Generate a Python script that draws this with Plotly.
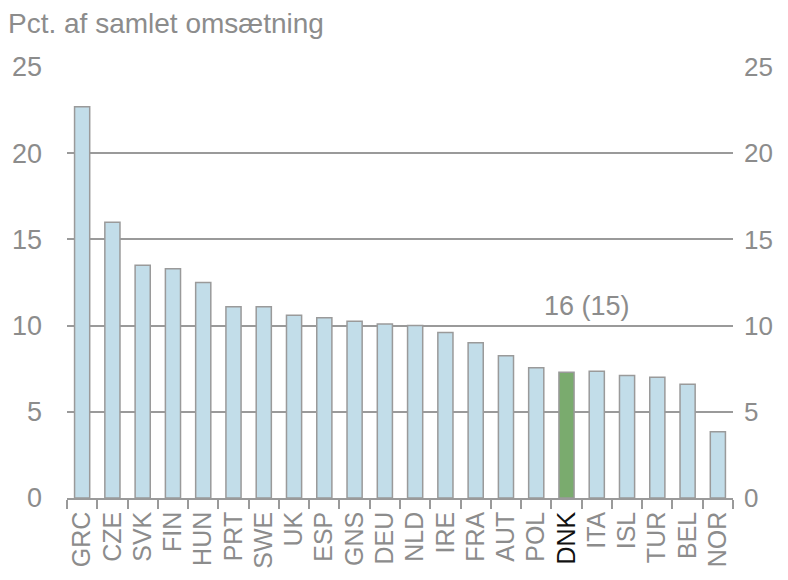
import plotly.graph_objects as go

countries = ["GRC","CZE","SVK","FIN","HUN","PRT","SWE","UK","ESP","GNS","DEU","NLD",
             "IRE","FRA","AUT","POL","DNK","ITA","ISL","TUR","BEL","NOR"]
values = [22.7,16.0,13.5,13.3,12.5,11.1,11.1,10.6,10.45,10.25,10.1,10.0,
          9.6,9.0,8.25,7.55,7.3,7.35,7.1,7.0,6.6,3.85]
highlight = "DNK"
rank_label = "16 (15)"
yticks = [0,5,10,15,20,25]

GRAY = "#8c8c8c"
colors = ["#7aab6e" if c == highlight else "#c2dde9" for c in countries]
ticktext = [f"<span style='color:#111111'>{c}</span>" if c == highlight else c for c in countries]

fig = go.Figure()
fig.add_trace(go.Bar(x=countries, y=values, marker=dict(color=colors, line=dict(color="#9a9a9a", width=1.5)),
                     showlegend=False, hoverinfo="skip"))
fig.add_trace(go.Scatter(x=countries, y=values, yaxis="y2", mode="markers", marker=dict(opacity=0),
                         showlegend=False, hoverinfo="skip"))

fig.update_layout(
    width=780, height=564,
    margin=dict(l=59, r=55, t=59, b=74, autoexpand=False),
    plot_bgcolor="white", paper_bgcolor="white",
    font=dict(family="Liberation Sans, Arial", color=GRAY, size=24),
    bargap=0.5,
    xaxis=dict(tickmode="array", tickvals=countries, ticktext=ticktext, tickangle=-90,
               tickfont=dict(size=25, color=GRAY), showline=True, linecolor="#9a9a9a", linewidth=1.5,
               ticks="outside", ticklen=9, tickcolor="#9a9a9a", tickwidth=1.5, tickson="boundaries",
               showgrid=False, range=[-0.5, len(countries)-0.5], ticklabelstandoff=2, automargin=False),
    yaxis=dict(range=[0,25], tickvals=yticks, showgrid=True, gridcolor="#9a9a9a", gridwidth=1.5,
               zeroline=False, ticks="", ticklabelstandoff=24, tickfont=dict(size=27, color=GRAY),
               automargin=False),
    yaxis2=dict(range=[0,25], tickvals=yticks, overlaying="y", side="right", showgrid=False,
                zeroline=False, ticks="", ticklabelstandoff=10, tickfont=dict(size=26, color=GRAY),
                automargin=False),
    annotations=[
        dict(text="Pct. af samlet omsætning", xref="paper", yref="paper", x=-0.0916, y=1.06,
             xanchor="left", yanchor="bottom", showarrow=False, font=dict(size=28, color=GRAY)),
        dict(text=rank_label, x=highlight, y=10.15, xref="x", yref="y", xshift=20, yanchor="bottom",
             showarrow=False, font=dict(size=27, color=GRAY)),
    ],
)
fig.write_html("out.html")
